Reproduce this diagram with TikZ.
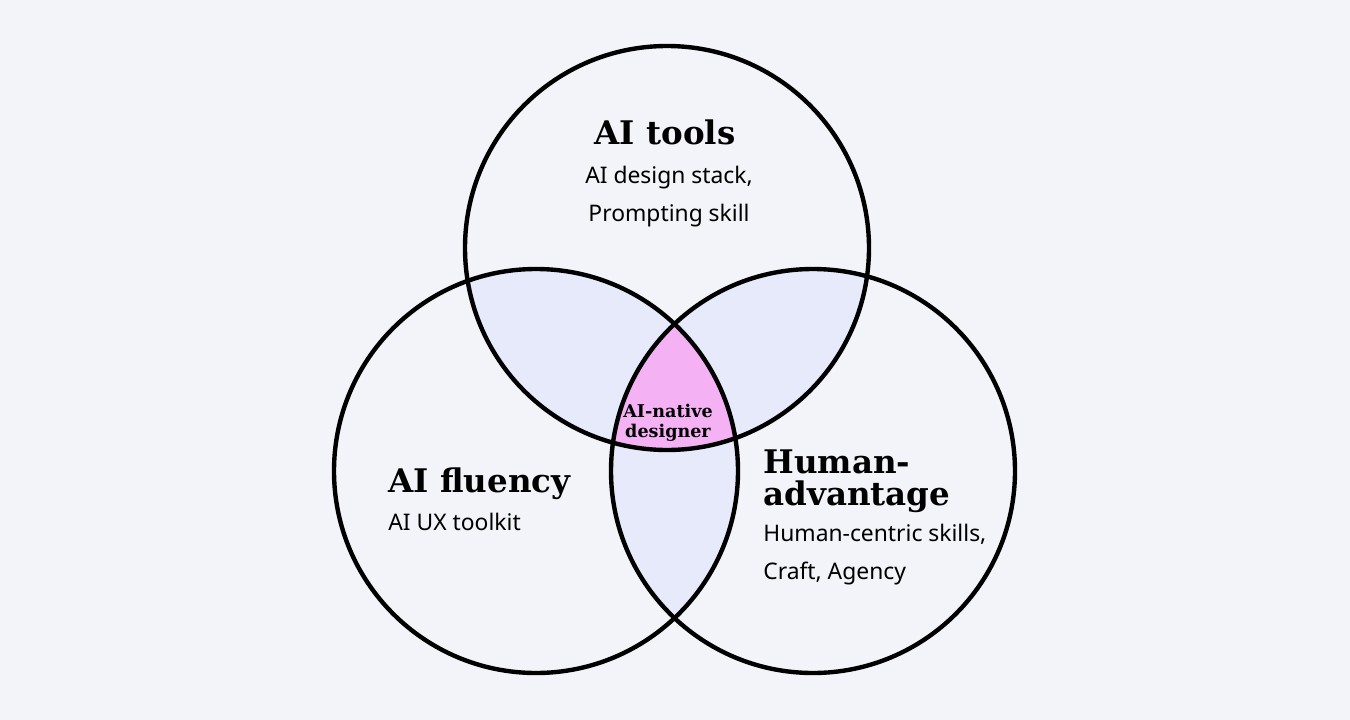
\documentclass[tikz,border=0pt]{standalone}
\usepackage{fontspec}
\setmainfont{DejaVu Serif}
\setsansfont{Noto Sans}
\definecolor{bgcol}{HTML}{F3F4F9}
\definecolor{paircol}{HTML}{E6EAFB}
\definecolor{corecol}{HTML}{F4B2F4}
\tikzset{
  ring/.style={line width=2.5pt,draw=black},
  title/.style={font=\fontsize{18.5}{18}\selectfont\bfseries,inner sep=0pt,align=left},
  skills/.style={font=\sffamily\fontsize{13}{21.5}\selectfont,inner sep=0pt},
  core/.style={font=\fontsize{10}{11.3}\selectfont\bfseries,inner sep=0pt,align=center}
}
\begin{document}
\begin{tikzpicture}[x=0.02cm,y=-0.02cm]

% Background
\fill[bgcol] (0,0) rectangle (1350,720);
\useasboundingbox (0,0) rectangle (1350,720);

% Circle centres
\coordinate (top) at (667,248);
\coordinate (left) at (536,471);
\coordinate (right) at (813,471);

% Pairwise overlaps
\begin{scope}
  \clip (top) circle[radius=202];
  \fill[paircol] (left) circle[radius=202];
  \fill[paircol] (right) circle[radius=202];
\end{scope}
\begin{scope}
  \clip (left) circle[radius=202];
  \fill[paircol] (right) circle[radius=202];
\end{scope}

% Triple overlap
\begin{scope}
  \clip (top) circle[radius=202];
  \clip (left) circle[radius=202];
  \fill[corecol] (right) circle[radius=202];
\end{scope}

% Draw circles
\draw[ring] (top) circle[radius=202];
\draw[ring] (left) circle[radius=202];
\draw[ring] (right) circle[radius=202];

% Labels (base = last line)
\node[title,anchor=base] (toolsT) at (665,144) {AI tools};
\node[skills,anchor=base,align=center] (toolsS) at (669,221) {AI design stack,\\Prompting skill};

\node[title,anchor=base west] (fluencyT) at (388,492) {AI fluency};
\node[skills,anchor=base west,align=left] (fluencyS) at (388,530) {AI UX toolkit};

\node[title,anchor=base west] (humanT) at (763,505) {Human-\\advantage};
\node[skills,anchor=base west,align=left] (humanS) at (763,579) {Human-centric skills,\\Craft, Agency};

\node[core,anchor=base] (native) at (668,437) {AI-native\\designer};

\end{tikzpicture}
\end{document}
